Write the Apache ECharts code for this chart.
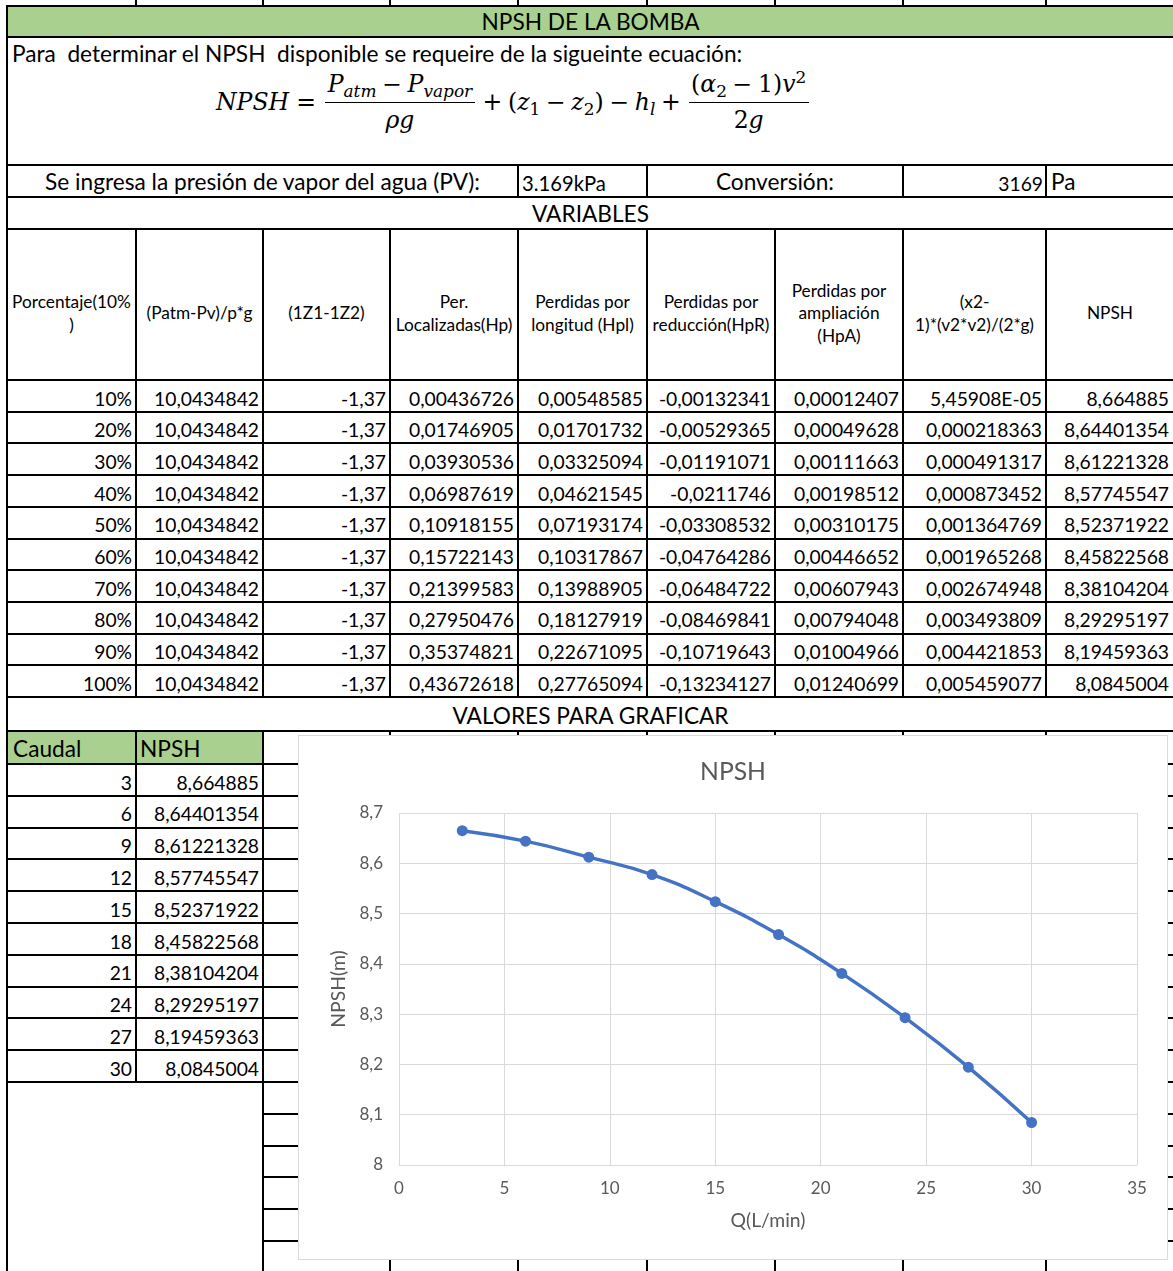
<!DOCTYPE html>
<html><head><meta charset="utf-8">
<script src="https://cdn.jsdelivr.net/npm/echarts@6.0.0/dist/echarts.min.js"></script>
<style>
html,body{margin:0;padding:0;background:#fff;}
body{width:1173px;height:1271px;overflow:hidden;position:relative;font-family:Lato,sans-serif;color:#000;}
.c{position:absolute;box-sizing:border-box;display:flex;white-space:pre;overflow:visible;font-family:Lato,sans-serif;}
.ln{position:absolute;background:#000;}
#chartBox{position:absolute;left:298px;top:735px;width:870px;height:525px;background:#fff;border:1px solid #d9d9d9;box-sizing:border-box;z-index:5;}
#chart{width:868px;height:523px;}
</style></head><body>
<div id="chartBox"><div id="chart"></div></div>
<script>
// ---------------- DATA ----------------
const porcentaje = ['10%','20%','30%','40%','50%','60%','70%','80%','90%','100%'];
const patmPv = ['10,0434842','10,0434842','10,0434842','10,0434842','10,0434842','10,0434842','10,0434842','10,0434842','10,0434842','10,0434842'];
const z1z2 = ['-1,37','-1,37','-1,37','-1,37','-1,37','-1,37','-1,37','-1,37','-1,37','-1,37'];
const perLocalizadas = ['0,00436726','0,01746905','0,03930536','0,06987619','0,10918155','0,15722143','0,21399583','0,27950476','0,35374821','0,43672618'];
const perLongitud = ['0,00548585','0,01701732','0,03325094','0,04621545','0,07193174','0,10317867','0,13988905','0,18127919','0,22671095','0,27765094'];
const perReduccion = ['-0,00132341','-0,00529365','-0,01191071','-0,0211746','-0,03308532','-0,04764286','-0,06484722','-0,08469841','-0,10719643','-0,13234127'];
const perAmpliacion = ['0,00012407','0,00049628','0,00111663','0,00198512','0,00310175','0,00446652','0,00607943','0,00794048','0,01004966','0,01240699'];
const terminoVel = ['5,45908E-05','0,000218363','0,000491317','0,000873452','0,001364769','0,001965268','0,002674948','0,003493809','0,004421853','0,005459077'];
const npsh = [8.664885, 8.64401354, 8.61221328, 8.57745547, 8.52371922, 8.45822568, 8.38104204, 8.29295197, 8.19459363, 8.0845004];
const caudal = [3, 6, 9, 12, 15, 18, 21, 24, 27, 30];
const headers = ['Porcentaje(10%<br>)', '(Patm-Pv)/p*g', '(1Z1-1Z2)', 'Per.<br>Localizadas(Hp)', 'Perdidas por<br>longitud (Hpl)', 'Perdidas por<br>reducción(HpR)', 'Perdidas por<br>ampliación<br>(HpA)', '(x2-<br>1)*(v2*v2)/(2*g)', 'NPSH'];
const xAxisTicks = {min: 0, max: 35, step: 5};
const yAxisTicks = {min: 8, max: 8.7, step: 0.1};

// ---------------- helpers ----------------
const cv = document.createElement('canvas').getContext('2d');
function fit(text, fam, target, style) {
  cv.font = (style || '') + ' 100px ' + fam;
  return 100 * target / cv.measureText(text).width;
}
const bodyFS = fit('Se ingresa la presión de vapor del agua (PV):', 'Lato', 436);
const numFS = fit('10,0434842', 'Lato', 105);
const headFS = fit('Porcentaje(10%', 'Lato', 119);
const fmt = v => String(v).replace('.', ',');

function hline(x1, x2, y) {
  const d = document.createElement('div'); d.className = 'ln';
  d.style.cssText = `left:${x1-1}px;top:${y-1}px;width:${x2-x1+2}px;height:2px;`;
  document.body.appendChild(d);
}
function vline(x, y1, y2) {
  const d = document.createElement('div'); d.className = 'ln';
  d.style.cssText = `left:${x-1}px;top:${y1-1}px;width:2px;height:${y2-y1+2}px;`;
  document.body.appendChild(d);
}
function fill(x1, y1, x2, y2, color) {
  const d = document.createElement('div');
  d.style.cssText = `position:absolute;left:${x1}px;top:${y1}px;width:${x2-x1}px;height:${y2-y1}px;background:${color};`;
  document.body.appendChild(d);
}
function txt(x1, y1, x2, y2, text, o) {
  o = o || {};
  const d = document.createElement('div'); d.className = 'c';
  const al = o.align || 'left';
  const pad = o.pad == null ? 4 : o.pad;
  d.style.left = x1 + 'px'; d.style.top = y1 + 'px';
  d.style.width = (x2 - x1) + 'px'; d.style.height = (y2 - y1) + 'px';
  d.style.fontSize = (o.fs || bodyFS) + 'px';
  d.style.lineHeight = '1.2';
  d.style.justifyContent = al === 'left' ? 'flex-start' : al === 'right' ? 'flex-end' : 'center';
  d.style.alignItems = 'flex-end';
  d.style.padding = `0 ${pad}px ${o.pb == null ? 2 : o.pb}px ${pad}px`;
  d.innerHTML = text;
  document.body.appendChild(d);
}

// ---------------- layout ----------------
const X = [7, 136, 263, 390, 518, 647, 775, 903, 1046, 1174];
const RIGHT = 1174;
const yTop = 6, yTitle = 37, yPara = 69, yForm = 165, yPV = 197, yVar = 229, yHead = 380;
const rowH = 31.7;
const yData = porcentaje.map((_, i) => yHead + rowH * i).concat([yHead + rowH * porcentaje.length]);
const yDataEnd = yData[yData.length - 1];
const yVal = 731, yCau = 764, rowH2 = 31.8;

fill(X[0], yTop, RIGHT, yTitle, '#A9D08E');
fill(X[0], yVal, X[2], yCau, '#A9D08E');

txt(X[0], yTop, RIGHT, yTitle, 'NPSH DE LA BOMBA', {align: 'center'});
txt(X[0], yTitle, RIGHT, yPara, 'Para  determinar el NPSH  disponible se requeire de la sigueinte ecuación:', {pad: 5});
txt(X[0], yForm, X[4], yPV, 'Se ingresa la presión de vapor del agua (PV):', {align: 'center'});
txt(X[4], yForm, X[5], yPV, '3.169kPa', {fs: numFS * 1.05});
txt(X[5], yForm, X[7], yPV, 'Conversión:', {align: 'center'});
txt(X[7], yForm, X[8], yPV, '3169', {align: 'right', pad: 3, fs: numFS});
txt(X[8], yForm, RIGHT, yPV, 'Pa', {pad: 5});
txt(X[0], yPV, RIGHT, yVar, 'VARIABLES', {align: 'center'});
headers.forEach((h, i) => {
  const d = document.createElement('div'); d.className = 'c';
  d.style.cssText += `left:${X[i]}px;top:${yVar}px;width:${X[i+1]-X[i]}px;height:${yHead-yVar}px;font-size:${headFS}px;line-height:1.3;justify-content:center;align-items:center;text-align:center;padding-top:18px;`;
  d.innerHTML = `<div>${h}</div>`;
  document.body.appendChild(d);
});
const cols = [porcentaje, patmPv, z1z2, perLocalizadas, perLongitud, perReduccion, perAmpliacion, terminoVel, npsh.map(fmt)];
porcentaje.forEach((_, r) => {
  cols.forEach((col, c) => {
    txt(X[c], yData[r], X[c+1], yData[r+1], col[r], {align: 'right', pad: c === 8 ? 5 : 4, fs: numFS});
  });
});
txt(X[0], yDataEnd, RIGHT, yVal, 'VALORES PARA GRAFICAR', {align: 'center'});
txt(X[0], yVal, X[1], yCau, 'Caudal', {pad: 6});
txt(X[1], yVal, X[2], yCau, 'NPSH', {pad: 4});
const yC = [];
for (let k = 0; k <= 16; k++) yC.push(yCau + rowH2 * k);
caudal.forEach((q, r) => {
  txt(X[0], yC[r], X[1], yC[r+1], String(q), {align: 'right', pad: 4, fs: numFS});
  txt(X[1], yC[r], X[2], yC[r+1], fmt(npsh[r]), {align: 'right', pad: 4, fs: numFS});
});

X.slice(1, 9).forEach(x => vline(x, 0, yTop));
hline(X[0], RIGHT, yTop);
vline(X[0], yTop, 1275);
[yTitle, yForm, yPV, yVar].forEach(y => hline(X[0], RIGHT, y));
[4, 5, 7, 8].forEach(i => vline(X[i], yForm, yPV));
yData.forEach(y => hline(X[0], RIGHT, y));
X.slice(1, 9).forEach(x => vline(x, yVar, yDataEnd));
hline(X[0], RIGHT, yVal);
hline(X[0], RIGHT, yCau);
vline(X[1], yVal, yC[10]);
vline(X[2], yVal, 1275);
X.slice(3, 9).forEach(x => vline(x, yVal, 1275));
for (let k = 1; k <= 10; k++) hline(X[0], RIGHT, yC[k]);
for (let k = 11; k <= 16; k++) hline(X[2], RIGHT, yC[k]);

// ---------------- formula ----------------
const mfam = '"DejaVu Serif", serif';
const I = t => `<i>${t}</i>`;
const S = t => `<span>${t}</span>`;
const sub = t => `<span style="font-size:0.72em;position:relative;top:0.3em">${t}</span>`;
const sup = t => `<span style="font-size:0.72em;position:relative;top:-0.5em">${t}</span>`;
const med = '<span style="display:inline-block;width:0.24em"></span>';
const thk = '<span style="display:inline-block;width:0.3em"></span>';
const frac = (n, d) => `<span style="display:inline-flex;flex-direction:column;align-items:center;padding:0 0.1em">` +
  `<span style="padding:0 0.1em 0.14em">${n}</span><span style="align-self:stretch;border-top:1.5px solid #000;height:0"></span>` +
  `<span style="padding:0.14em 0.1em 0">${d}</span></span>`;
const F = document.createElement('div');
F.style.cssText = `position:absolute;left:216px;top:0;display:flex;align-items:center;font-family:${mfam};font-size:22px;white-space:nowrap;line-height:1.2;`;
F.innerHTML =
  S(I('NPSH')) + thk + S('=') + thk +
  frac(I('P') + sub(I('atm')) + med + '−' + med + I('P') + sub(I('vapor')), I('ρg')) +
  med + S('+') + med +
  S('(' + I('z') + sub('1') + med + '−' + med + I('z') + sub('2') + ')') +
  med + S('−') + med + S(I('h') + sub(I('l'))) + med + S('+') + med +
  frac('(' + I('α') + sub('2') + med + '−' + med + '1)' + I('v') + sup('2'), '2' + I('g'));
document.body.appendChild(F);
const fw = F.getBoundingClientRect().width;
F.style.fontSize = (22 * 595 / fw) + 'px';
const fh = F.getBoundingClientRect().height;
F.style.top = (102 - fh / 2) + 'px';

// ---------------- chart ----------------
const titleFS = fit('NPSH', 'Lato', 66);
const nameFS = fit('Q(L/min)', 'Lato', 75);
const labelFS = 17;
const chart = echarts.init(document.getElementById('chart'), null, {renderer: 'canvas'});
chart.setOption({
  animation: false,
  backgroundColor: '#fff',
  title: {text: 'NPSH', left: 'center', top: 19,
    textStyle: {fontFamily: 'Lato', fontSize: titleFS, fontWeight: 'normal', color: '#595959'}},
  grid: {left: 100, right: 30, top: 77, bottom: 94, containLabel: false, outerBoundsMode: 'none'},
  xAxis: {
    type: 'value', min: xAxisTicks.min, max: xAxisTicks.max, interval: xAxisTicks.step,
    name: 'Q(L/min)', nameLocation: 'middle', nameGap: 46,
    nameTextStyle: {fontFamily: 'Lato', fontSize: nameFS, color: '#595959'},
    axisLine: {show: true, lineStyle: {color: '#d9d9d9', width: 1}},
    axisTick: {show: false},
    axisLabel: {fontFamily: 'Lato', fontSize: labelFS, color: '#595959', margin: 15},
    splitLine: {show: true, lineStyle: {color: '#d9d9d9', width: 1}}
  },
  yAxis: {
    type: 'value', min: yAxisTicks.min, max: yAxisTicks.max, interval: yAxisTicks.step,
    name: 'NPSH(m)', nameLocation: 'middle', nameGap: 49, nameRotate: 90,
    nameTextStyle: {fontFamily: 'Lato', fontSize: nameFS, color: '#595959'},
    axisLine: {show: false}, axisTick: {show: false},
    axisLabel: {fontFamily: 'Lato', fontSize: labelFS, color: '#595959', margin: 16,
      formatter: v => String(Math.round(v * 10) / 10).replace('.', ',')},
    splitLine: {show: true, lineStyle: {color: '#d9d9d9', width: 1}}
  },
  series: [{
    type: 'line', smooth: true, symbol: 'circle', symbolSize: 11,
    data: caudal.map((q, i) => [q, npsh[i]]),
    lineStyle: {color: '#4472C4', width: 3.5},
    itemStyle: {color: '#4472C4'}
  }]
});
</script>
</body></html>
